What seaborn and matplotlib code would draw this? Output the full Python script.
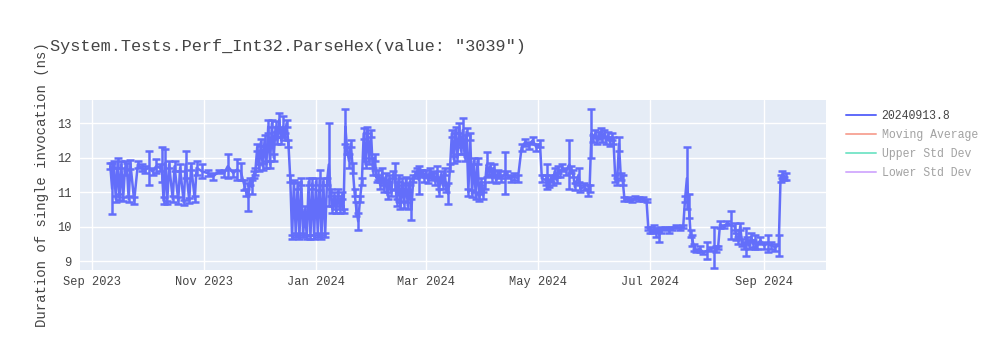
import matplotlib
matplotlib.use("Agg")
import matplotlib.pyplot as plt
import matplotlib.dates as mdates
from matplotlib.lines import Line2D
import seaborn as sns
import pandas as pd

# ---------------- data ----------------
dates = [
    "2023-09-11", "2023-09-12", "2023-09-13", "2023-09-14", "2023-09-15", "2023-09-16", "2023-09-17",
    "2023-09-18", "2023-09-19", "2023-09-20", "2023-09-21", "2023-09-22", "2023-09-24", "2023-09-26",
    "2023-09-28", "2023-09-30", "2023-10-02", "2023-10-04", "2023-10-06", "2023-10-08", "2023-10-09",
    "2023-10-10", "2023-10-11", "2023-10-12", "2023-10-13", "2023-10-15", "2023-10-16", "2023-10-18",
    "2023-10-19", "2023-10-21", "2023-10-22", "2023-10-24", "2023-10-25", "2023-10-27", "2023-10-28",
    "2023-10-31", "2023-11-03", "2023-11-06", "2023-11-09", "2023-11-12", "2023-11-14", "2023-11-17",
    "2023-11-19", "2023-11-21", "2023-11-23", "2023-11-24", "2023-11-25", "2023-11-26", "2023-11-27",
    "2023-11-28", "2023-11-29", "2023-11-30", "2023-12-01", "2023-12-02", "2023-12-03", "2023-12-04",
    "2023-12-05", "2023-12-06", "2023-12-07", "2023-12-08", "2023-12-09", "2023-12-10", "2023-12-11",
    "2023-12-12", "2023-12-13", "2023-12-14", "2023-12-15", "2023-12-16", "2023-12-17", "2023-12-18",
    "2023-12-19", "2023-12-20", "2023-12-21", "2023-12-22", "2023-12-23", "2023-12-24", "2023-12-25",
    "2023-12-26", "2023-12-27", "2023-12-28", "2023-12-29", "2023-12-30", "2023-12-31", "2024-01-01",
    "2024-01-02", "2024-01-03", "2024-01-04", "2024-01-05", "2024-01-06", "2024-01-07", "2024-01-08",
    "2024-01-09", "2024-01-10", "2024-01-11", "2024-01-12", "2024-01-13", "2024-01-14", "2024-01-15",
    "2024-01-16", "2024-01-17", "2024-01-18", "2024-01-19", "2024-01-20", "2024-01-21", "2024-01-22",
    "2024-01-23", "2024-01-24", "2024-01-25", "2024-01-26", "2024-01-27", "2024-01-28", "2024-01-29",
    "2024-01-30", "2024-01-31", "2024-02-01", "2024-02-02", "2024-02-03", "2024-02-04", "2024-02-05",
    "2024-02-06", "2024-02-07", "2024-02-08", "2024-02-09", "2024-02-10", "2024-02-11", "2024-02-12",
    "2024-02-13", "2024-02-14", "2024-02-15", "2024-02-16", "2024-02-17", "2024-02-18", "2024-02-19",
    "2024-02-20", "2024-02-21", "2024-02-22", "2024-02-23", "2024-02-24", "2024-02-25", "2024-02-26",
    "2024-02-27", "2024-02-28", "2024-02-29", "2024-03-01", "2024-03-02", "2024-03-03", "2024-03-04",
    "2024-03-05", "2024-03-06", "2024-03-07", "2024-03-08", "2024-03-09", "2024-03-10", "2024-03-11",
    "2024-03-12", "2024-03-13", "2024-03-14", "2024-03-15", "2024-03-16", "2024-03-17", "2024-03-18",
    "2024-03-19", "2024-03-20", "2024-03-21", "2024-03-22", "2024-03-23", "2024-03-24", "2024-03-25",
    "2024-03-26", "2024-03-27", "2024-03-28", "2024-03-29", "2024-03-30", "2024-03-31", "2024-04-01",
    "2024-04-02", "2024-04-03", "2024-04-04", "2024-04-05", "2024-04-06", "2024-04-07", "2024-04-08",
    "2024-04-09", "2024-04-10", "2024-04-11", "2024-04-13", "2024-04-14", "2024-04-16", "2024-04-18",
    "2024-04-20", "2024-04-22", "2024-04-24", "2024-04-26", "2024-04-28", "2024-04-30", "2024-05-02",
    "2024-05-03", "2024-05-05", "2024-05-06", "2024-05-07", "2024-05-08", "2024-05-09", "2024-05-10",
    "2024-05-11", "2024-05-12", "2024-05-13", "2024-05-14", "2024-05-16", "2024-05-18", "2024-05-19",
    "2024-05-20", "2024-05-21", "2024-05-23", "2024-05-24", "2024-05-26", "2024-05-28", "2024-05-29",
    "2024-05-30", "2024-05-31", "2024-06-01", "2024-06-02", "2024-06-03", "2024-06-04", "2024-06-05",
    "2024-06-06", "2024-06-07", "2024-06-08", "2024-06-09", "2024-06-10", "2024-06-11", "2024-06-12",
    "2024-06-13", "2024-06-14", "2024-06-15", "2024-06-16", "2024-06-17", "2024-06-19", "2024-06-21",
    "2024-06-23", "2024-06-25", "2024-06-27", "2024-06-29", "2024-06-30", "2024-07-01", "2024-07-02",
    "2024-07-03", "2024-07-04", "2024-07-05", "2024-07-06", "2024-07-07", "2024-07-09", "2024-07-11",
    "2024-07-13", "2024-07-15", "2024-07-17", "2024-07-19", "2024-07-20", "2024-07-21", "2024-07-22",
    "2024-07-23", "2024-07-24", "2024-07-25", "2024-07-26", "2024-07-28", "2024-07-30", "2024-08-01",
    "2024-08-03", "2024-08-05", "2024-08-06", "2024-08-07", "2024-08-08", "2024-08-10", "2024-08-12",
    "2024-08-14", "2024-08-16", "2024-08-17", "2024-08-18", "2024-08-19", "2024-08-20", "2024-08-21",
    "2024-08-22", "2024-08-23", "2024-08-24", "2024-08-25", "2024-08-26", "2024-08-27", "2024-08-28",
    "2024-08-30", "2024-09-01", "2024-09-03", "2024-09-05", "2024-09-07", "2024-09-09", "2024-09-10",
    "2024-09-11", "2024-09-12", "2024-09-13",
]

values = [
    11.75, 11.10, 11.80, 10.80, 11.85, 10.85, 11.80,
    10.80, 11.70, 11.75, 10.80, 11.80, 10.75, 11.80,
    11.70, 11.65, 11.70, 11.60, 11.75, 11.70, 11.80,
    10.75, 11.85, 10.70, 11.80, 10.80, 11.75, 10.75,
    11.70, 10.70, 11.80, 10.75, 11.75, 10.80, 11.70,
    11.60, 11.55, 11.45, 11.60, 11.55, 11.75, 11.55,
    11.65, 11.60, 11.20, 11.00, 10.85, 11.30, 11.15,
    11.50, 11.60, 12.30, 11.70, 12.45, 11.75, 12.50,
    11.80, 12.90, 11.80, 13.00, 12.00, 12.90, 12.50,
    13.10, 12.50, 12.90, 12.60, 13.00, 12.40, 11.40,
    9.70, 11.30, 9.75, 11.20, 9.70, 11.30, 9.75,
    10.50, 9.70, 11.30, 9.70, 11.25, 9.70, 11.30,
    9.75, 11.35, 9.70, 11.30, 9.75, 11.30, 11.80,
    11.00, 10.50, 10.90, 10.45, 11.00, 10.50, 10.90,
    10.45, 12.90, 12.20, 11.90, 12.40, 11.70, 11.00,
    10.50, 10.15, 10.80, 11.30, 12.70, 11.80, 12.80,
    11.90, 12.70, 11.60, 12.00, 11.40, 11.50, 11.20,
    11.55, 11.10, 11.45, 10.90, 11.40, 11.00, 11.50,
    11.45, 10.70, 11.40, 10.60, 11.30, 10.65, 11.35,
    10.60, 11.30, 10.50, 11.40, 11.50, 11.60, 11.35,
    11.55, 11.60, 11.40, 11.55, 11.35, 11.60, 11.45,
    11.50, 11.30, 11.60, 11.00, 11.50, 11.20, 11.60,
    11.10, 10.95, 11.70, 12.70, 11.95, 12.80, 12.00,
    12.85, 12.20, 12.80, 12.00, 12.75, 11.00, 12.60,
    10.95, 11.90, 10.90, 11.90, 10.85, 11.30, 10.90,
    11.20, 11.80, 11.60, 11.75, 11.40, 11.70, 11.35,
    11.55, 11.50, 11.40, 11.55, 11.50, 11.40, 11.45,
    11.40, 12.30, 12.45, 12.35, 12.50, 12.30, 12.40,
    11.40, 11.35, 11.45, 11.25, 11.40, 11.30, 11.60,
    11.35, 11.65, 11.55, 11.70, 11.60, 11.80, 11.65,
    11.55, 11.15, 11.50, 11.10, 11.15, 11.05, 11.10,
    12.70, 12.55, 12.70, 12.50, 12.65, 12.75, 12.55,
    12.70, 12.50, 12.65, 12.45, 12.60, 12.50, 11.40,
    11.30, 12.40, 11.45, 11.35, 10.80, 10.80, 10.75,
    10.85, 10.80, 10.80, 10.75, 9.95, 9.90, 9.85,
    9.95, 9.80, 9.90, 9.75, 9.90, 9.95, 9.90,
    9.95, 10.00, 9.95, 10.00, 10.80, 11.40, 10.60,
    9.80, 9.60, 9.40, 9.30, 9.35, 9.25, 9.30,
    9.35, 9.40, 9.35, 9.40, 10.05, 10.00, 10.10,
    10.05, 10.00, 9.70, 9.60, 10.00, 9.55, 9.45,
    9.55, 9.60, 9.45, 9.70, 9.50, 9.55, 9.45,
    9.60, 9.45, 9.50, 9.45, 9.40, 9.45, 11.40,
    11.50, 11.40, 11.45,
]

errors = [
    0.08, 0.75, 0.10, 0.08, 0.15, 0.08, 0.10,
    0.05, 0.20, 0.10, 0.10, 0.12, 0.10, 0.10,
    0.10, 0.10, 0.50, 0.10, 0.20, 0.10, 0.50,
    0.10, 0.40, 0.05, 0.10, 0.10, 0.15, 0.10,
    0.10, 0.08, 0.40, 0.08, 0.10, 0.10, 0.20,
    0.20, 0.08, 0.10, 0.05, 0.10, 0.35, 0.10,
    0.30, 0.25, 0.15, 0.10, 0.40, 0.10, 0.20,
    0.10, 0.10, 0.10, 0.10, 0.10, 0.10, 0.15,
    0.10, 0.20, 0.10, 0.10, 0.10, 0.15, 0.10,
    0.20, 0.10, 0.30, 0.10, 0.10, 0.10, 0.10,
    0.05, 0.05, 0.05, 0.10, 0.05, 0.10, 0.05,
    0.10, 0.05, 0.10, 0.05, 0.15, 0.05, 0.10,
    0.05, 0.30, 0.05, 0.10, 0.05, 0.10, 1.20,
    0.10, 0.10, 0.10, 0.05, 0.10, 0.10, 0.10,
    0.05, 0.50, 0.10, 0.20, 0.10, 0.15, 0.10,
    0.20, 0.25, 0.10, 0.10, 0.15, 0.10, 0.10,
    0.10, 0.10, 0.10, 0.10, 0.10, 0.15, 0.10,
    0.15, 0.10, 0.10, 0.10, 0.10, 0.10, 0.10,
    0.40, 0.10, 0.10, 0.10, 0.10, 0.10, 0.10,
    0.10, 0.10, 0.30, 0.10, 0.10, 0.10, 0.40,
    0.10, 0.05, 0.10, 0.10, 0.10, 0.10, 0.10,
    0.10, 0.10, 0.15, 0.10, 0.10, 0.10, 0.10,
    0.10, 0.30, 0.10, 0.10, 0.10, 0.10, 0.10,
    0.15, 0.10, 0.35, 0.10, 0.10, 0.10, 0.10,
    0.10, 0.10, 0.10, 0.10, 0.10, 0.10, 0.10,
    0.10, 0.35, 0.10, 0.10, 0.10, 0.10, 0.10,
    0.10, 0.10, 0.10, 0.60, 0.10, 0.10, 0.10,
    0.10, 0.10, 0.10, 0.10, 0.10, 0.10, 0.10,
    0.10, 0.15, 0.35, 0.10, 0.10, 0.10, 0.10,
    0.10, 0.10, 0.10, 0.10, 0.10, 0.70, 0.10,
    0.10, 0.10, 0.20, 0.10, 0.10, 0.15, 0.10,
    0.70, 0.10, 0.10, 0.10, 0.10, 0.10, 0.10,
    0.10, 0.10, 0.10, 0.10, 0.10, 0.10, 0.10,
    0.10, 0.20, 0.10, 0.15, 0.05, 0.05, 0.05,
    0.05, 0.05, 0.05, 0.05, 0.05, 0.10, 0.05,
    0.10, 0.10, 0.05, 0.20, 0.10, 0.05, 0.10,
    0.05, 0.05, 0.05, 0.05, 0.10, 0.90, 0.35,
    0.10, 0.15, 0.10, 0.05, 0.10, 0.05, 0.25,
    0.05, 0.60, 0.10, 0.05, 0.10, 0.05, 0.05,
    0.40, 0.10, 0.10, 0.10, 0.10, 0.10, 0.10,
    0.40, 0.10, 0.10, 0.10, 0.10, 0.20, 0.10,
    0.10, 0.10, 0.25, 0.10, 0.10, 0.30, 0.10,
    0.10, 0.05, 0.10,
]

series_name = "20240913.8"
legend_labels = ["20240913.8", "Moving Average", "Upper Std Dev", "Lower Std Dev"]
title_text = 'System.Tests.Perf_Int32.ParseHex(value: "3039")'
y_label = "Duration of single invocation (ns)"
y_ticks = [9, 10, 11, 12, 13]

# ---------------- styling ----------------
W, H = 1000, 350
BLUE = "#636EFA"
TEXT = "#444444"
MONO = ["Liberation Mono", "DejaVu Sans Mono"]

sns.set_theme(style="darkgrid")
plt.rcParams["font.family"] = MONO

df = pd.DataFrame({"date": pd.to_datetime(dates), "value": values, "err": errors})

fig = plt.figure(figsize=(W / 100, H / 100), dpi=100)
ax = fig.add_axes([80 / W, 1 - 270 / H, (826 - 80) / W, 170 / H])
ax.set_facecolor("#E5ECF6")

ax.errorbar(df["date"], df["value"], yerr=df["err"], fmt="none",
            ecolor=BLUE, elinewidth=1.8, capsize=3.2, capthick=1.8, zorder=2)
sns.lineplot(data=df, x="date", y="value", ax=ax, color=BLUE, linewidth=1.8,
             estimator=None, sort=False, legend=False, zorder=3)

ax.set_xlim(pd.Timestamp("2023-08-25 12:00"), pd.Timestamp("2024-10-04 18:00"))
ax.set_ylim(8.74, 13.67)
ax.set_yticks(y_ticks)
ax.xaxis.set_major_locator(mdates.MonthLocator(bymonth=[1, 3, 5, 7, 9, 11]))
ax.xaxis.set_major_formatter(mdates.DateFormatter("%b %Y"))
ax.grid(True, color="white", linewidth=1.0)
ax.set_axisbelow(True)
for s in ax.spines.values():
    s.set_visible(False)
ax.tick_params(axis="both", length=0, labelsize=8.64, colors=TEXT)
ax.tick_params(axis="x", pad=4)
ax.tick_params(axis="y", pad=6)
ax.set_xlabel("")
ax.set_ylabel(y_label, fontsize=10.08, color=TEXT)
ax.yaxis.set_label_coords(-(80 - 49) / (826 - 80), 0.5)

fig.text(50 / W, 1 - 47 / H, title_text, fontsize=12.2, color=TEXT,
         ha="left", va="center", family=MONO)

handles = [
    Line2D([], [], color=BLUE, linewidth=1.44),
    Line2D([], [], color="#F7AA9D", linewidth=1.44),
    Line2D([], [], color="#80E6CB", linewidth=1.44),
    Line2D([], [], color="#D5B1FD", linewidth=1.44),
]
leg = fig.legend(handles, legend_labels, loc="upper left",
                 bbox_to_anchor=(846 / W, 1 - 110 / H), frameon=False,
                 fontsize=8.3, handlelength=2.6, handletextpad=0.5,
                 labelspacing=0.6, borderpad=0, borderaxespad=0)
for i, t in enumerate(leg.get_texts()):
    t.set_color(TEXT if i == 0 else "#A2A2A2")

fig.savefig("out.png", dpi=100, facecolor="white")
